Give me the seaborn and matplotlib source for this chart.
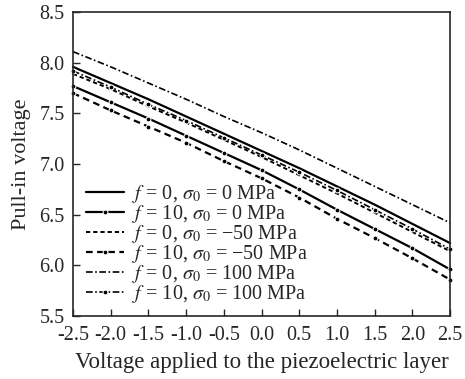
import numpy as np
import pandas as pd
import seaborn as sns
import matplotlib.pyplot as plt

# Voltage applied to the piezoelectric layer
voltage = [-2.5, -2.0, -1.5, -1.0, -0.5, 0.0, 0.5, 1.0, 1.5, 2.0, 2.5]

# Pull-in voltage for each case
f0_s0 = [7.96, 7.80, 7.64, 7.47, 7.30, 7.13, 6.96, 6.78, 6.60, 6.41, 6.22]
f10_s0 = [7.77, 7.61, 7.45, 7.28, 7.11, 6.94, 6.75, 6.55, 6.36, 6.17, 5.96]
f0_sm50 = [7.89, 7.74, 7.57, 7.41, 7.24, 7.07, 6.89, 6.71, 6.52, 6.33, 6.14]
f10_sm50 = [7.70, 7.53, 7.37, 7.21, 7.03, 6.86, 6.67, 6.46, 6.27, 6.07, 5.86]
f0_s100 = [8.11, 7.96, 7.80, 7.64, 7.47, 7.31, 7.14, 6.96, 6.78, 6.60, 6.42]
f10_s100 = [7.92, 7.76, 7.59, 7.43, 7.26, 7.09, 6.92, 6.74, 6.55, 6.36, 6.16]

labels = [
    r"$f$ = 0, $\sigma_0$ = 0 MPa",
    r"$f$ = 10, $\sigma_0$ = 0 MPa",
    r"$f$ = 0, $\sigma_0$ = −50 MPa",
    r"$f$ = 10, $\sigma_0$ = −50 MPa",
    r"$f$ = 0, $\sigma_0$ = 100 MPa",
    r"$f$ = 10, $\sigma_0$ = 100 MPa",
]
series = [f0_s0, f10_s0, f0_sm50, f10_sm50, f0_s100, f10_s100]


def main():
    sns.set_style("ticks")
    plt.rcParams["font.family"] = ["Liberation Serif", "DejaVu Serif"]
    plt.rcParams["mathtext.fontset"] = "stix"
    plt.rcParams["axes.unicode_minus"] = True

    styles = [
        dict(linestyle="-", linewidth=1.6, marker=None),
        dict(linestyle="-", linewidth=1.6, marker="o", markersize=3.5),
        dict(linestyle=(0, (2.2, 1.5)), linewidth=1.4, marker=None),
        dict(linestyle=(0, (3, 2)), linewidth=1.6, marker="o", markersize=3.5),
        dict(linestyle=(0, (4, 1.5, 1, 1.5)), linewidth=1.2, marker=None),
        dict(linestyle=(0, (4, 1.5, 1, 1.5)), linewidth=1.2, marker="o", markersize=3.5),
    ]

    fig, ax = plt.subplots(figsize=(4.65, 3.79), dpi=100)
    fig.subplots_adjust(left=0.157, right=0.968, bottom=0.166, top=0.968)

    for lab, vals, st in zip(labels, series, styles):
        df = pd.DataFrame({"v": voltage, "p": vals})
        sns.lineplot(data=df, x="v", y="p", ax=ax, color="black", label=lab,
                     clip_on=False, **st)

    ax.set_xlim(-2.5, 2.5)
    ax.set_ylim(5.5, 8.5)
    ax.set_xticks(np.arange(-2.5, 2.51, 0.5))
    ax.set_yticks(np.arange(5.5, 8.51, 0.5))
    ax.xaxis.set_major_formatter(plt.FormatStrFormatter("%.1f"))
    ax.yaxis.set_major_formatter(plt.FormatStrFormatter("%.1f"))
    ax.tick_params(direction="in", length=5, width=1, labelsize=14.5)
    ax.tick_params(axis="x", pad=7)
    ax.tick_params(axis="y", pad=6)
    for sp in ax.spines.values():
        sp.set_linewidth(1.2)

    ax.set_xlabel("Voltage applied to the piezoelectric layer", fontsize=16.5, labelpad=5)
    ax.set_ylabel("Pull-in voltage", fontsize=16, labelpad=6)

    ax.legend(loc="lower left", bbox_to_anchor=(0.012, 0.01), frameon=False,
              fontsize=14.5, handlelength=1.9, handletextpad=0.4,
              labelspacing=-0.1, borderaxespad=0)

    plt.savefig("out.png", dpi=100)


if __name__ == "__main__":
    main()
